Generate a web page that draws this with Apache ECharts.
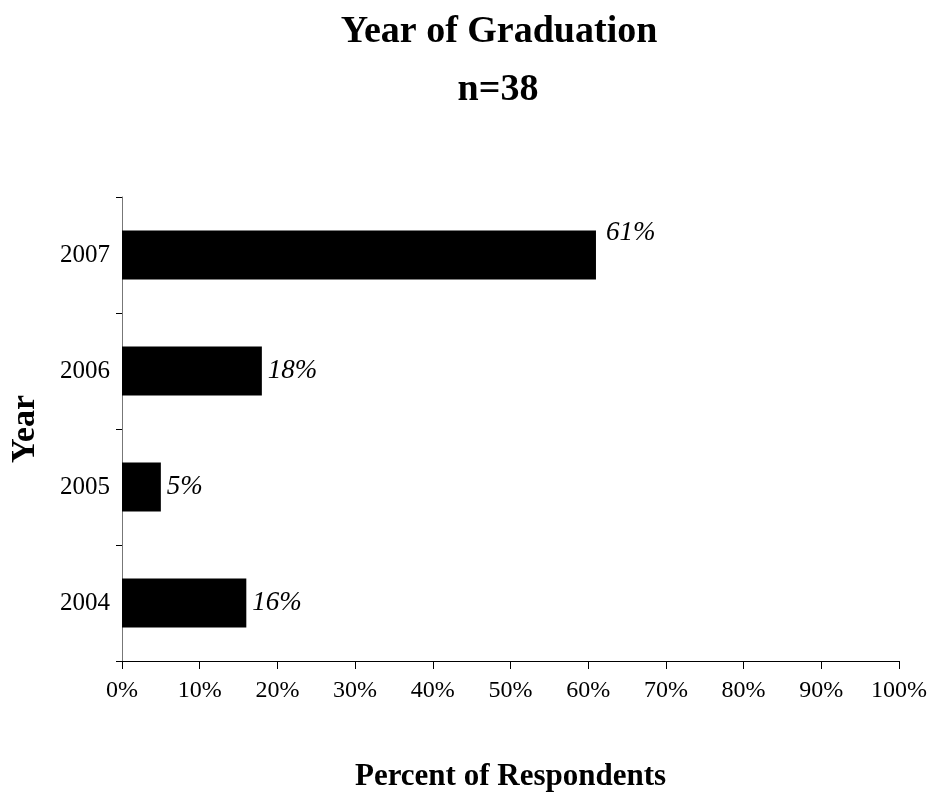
<!DOCTYPE html>
<html><head><meta charset="utf-8">
<script src="https://cdn.jsdelivr.net/npm/echarts@6/dist/echarts.min.js"></script>
<style>html,body{margin:0;padding:0;background:#fff}#c{width:931px;height:799px}</style>
</head><body><div id="c"></div>
<script>
const categories = ['2004', '2005', '2006', '2007'];
const percents = [16, 5, 18, 61];
const xTicks = [0, 10, 20, 30, 40, 50, 60, 70, 80, 90, 100];

const F = '"Liberation Serif", "Times New Roman", serif';
const chart = echarts.init(document.getElementById('c'), null, {renderer: 'canvas'});
chart.setOption({
  backgroundColor: '#ffffff',
  animation: false,
  title: [
    {text: 'Year of Graduation', left: 494, textAlign: 'center', top: 8, textStyle: {fontFamily: F, fontWeight: 'bold', fontSize: 38, color: '#000'}},
    {text: 'n=38', left: 493, textAlign: 'center', top: 66, textStyle: {fontFamily: F, fontWeight: 'bold', fontSize: 38, color: '#000'}}
  ],
  grid: {left: 122, right: 32, top: 197, bottom: 138, containLabel: false, outerBoundsMode: 'none'},
  xAxis: {
    type: 'value', min: xTicks[0], max: xTicks[xTicks.length - 1], interval: 10,
    name: 'Percent of Respondents', nameLocation: 'middle', nameGap: 100,
    nameTextStyle: {fontFamily: F, fontWeight: 'bold', fontSize: 31, color: '#000'},
    axisLine: {show: true, lineStyle: {color: '#000', width: 1}},
    axisTick: {show: true, length: 8, lineStyle: {color: '#000'}},
    axisLabel: {formatter: '{value}%', margin: 18, fontFamily: F, fontSize: 24, color: '#000'},
    splitLine: {show: false}
  },
  yAxis: {
    type: 'category', data: categories,
    name: 'Year', nameLocation: 'middle', nameGap: 80, nameRotate: 90,
    nameTextStyle: {fontFamily: F, fontWeight: 'bold', fontSize: 34, color: '#000'},
    axisLine: {show: true, lineStyle: {color: '#777', width: 1}},
    axisTick: {show: true, length: 6, alignWithLabel: false, lineStyle: {color: '#000'}},
    axisLabel: {margin: 12, fontFamily: F, fontSize: 25, color: '#000'}
  },
  series: [{
    type: 'bar',
    barWidth: 49,
    itemStyle: {color: '#000'},
    data: percents.map((v, i) => ({
      value: v,
      label: i === 3 ? {offset: [4, -22]} : {}
    })),
    label: {
      show: true, position: 'right', distance: 6,
      formatter: '{c}%',
      fontFamily: F, fontStyle: 'italic', fontSize: 27, color: '#000'
    }
  }]
});
</script></body></html>
